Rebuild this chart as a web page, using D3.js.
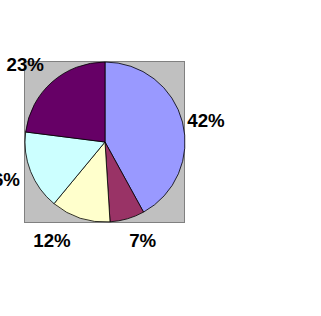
<html>
<head>
<meta charset="utf-8">
<style>
  body { margin: 0; background: #ffffff; }
  svg { display: block; }
</style>
<script src="https://cdnjs.cloudflare.com/ajax/libs/d3/7.8.5/d3.min.js"></script>
</head>
<body>
<svg></svg>
<script>
const categories = ['A', 'B', 'C', 'D', 'E'];
const values = [42, 7, 12, 16, 23];
const labels = ['42%', '7%', '12%', '16%', '23%'];
const colors = ['#9999FF', '#993366', '#FFFFCC', '#CCFFFF', '#660066'];

const width = 321;
const height = 316;
const cx = 105;
const cy = 142;
const radius = 80;

// hand-moved data labels (excel style), offsets from the default spot
const labelNudge = [[-5.5, 3.5], [7, 1], [-19, 2], [-1.5, 0], [-7, -2]];

const svg = d3.select('svg')
  .attr('width', width)
  .attr('height', height);

// plot area
svg.append('rect')
  .attr('x', cx - radius - 0.5)
  .attr('y', cy - radius - 0.5)
  .attr('width', radius * 2)
  .attr('height', radius * 2 + 1)
  .attr('fill', '#C0C0C0')
  .attr('stroke', '#808080')
  .attr('stroke-width', 1);

const pie = d3.pie().sort(null).value(d => d.value);
const arc = d3.arc().innerRadius(0).outerRadius(radius);

const data = categories.map((c, i) => ({ key: c, value: values[i], label: labels[i], color: colors[i] }));
const arcs = pie(data);

const g = svg.append('g').attr('transform', `translate(${cx},${cy})`);

g.selectAll('path')
  .data(arcs)
  .enter()
  .append('path')
  .attr('d', arc)
  .attr('fill', d => d.data.color)
  .attr('stroke', '#000')
  .attr('stroke-width', 0.8);

// labels outside the pie, on a slightly wider ellipse
const rx = 110, ry = 101;
g.selectAll('text')
  .data(arcs)
  .enter()
  .append('text')
  .attr('x', (d, i) => rx * Math.sin((d.startAngle + d.endAngle) / 2) + labelNudge[i][0])
  .attr('y', (d, i) => -ry * Math.cos((d.startAngle + d.endAngle) / 2) + labelNudge[i][1])
  .attr('dy', '0.36em')
  .attr('text-anchor', 'middle')
  .style('font-family', 'Arial, "Liberation Sans", sans-serif')
  .style('font-weight', 'bold')
  .style('font-size', '18.7px')
  .style('fill', '#000')
  .text(d => d.data.label);
</script>
</body>
</html>
